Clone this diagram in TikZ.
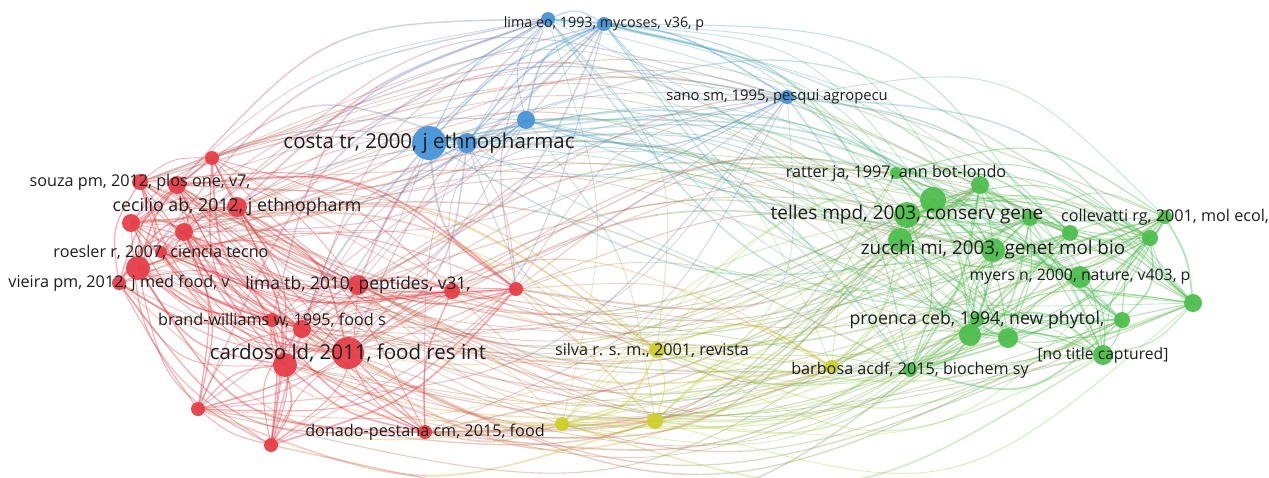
\documentclass[tikz,border=0pt]{standalone}
\usepackage{fontspec}
\setmainfont{Open Sans}
\definecolor{vc1}{RGB}{230,62,72}
\definecolor{vc2}{RGB}{70,148,218}
\definecolor{vc3}{RGB}{78,190,78}
\definecolor{vc4}{RGB}{205,208,40}
\definecolor{labtext}{RGB}{30,30,30}
\def\nodelist{1/212/158/7/1, 2/140/182/8/1, 3/177/185/9/1, 4/237/207/10/1, 5/131/223/9/1,
 6/184/232/9/1, 7/161/252/6/1, 8/138/268/12/1, 9/119/283/7/1, 10/358/285/10/1,
 11/452/291/8/1, 12/516/289/7/1, 13/272/320/7/1, 14/302/329/9/1, 15/348/353/16/1,
 16/285/365/12/1, 17/198/409/7/1, 18/271/445/7/1, 19/425/432/7/1,
 20/429/143/17/2, 21/467/143/10/2, 22/526/120/9/2, 23/548/19/7/2, 24/604/24/7/2, 25/787/97/7/2,
 26/562/424/7/4, 27/655/421/8/4, 28/657/350/8/4, 29/832/367/7/4,
 30/896/173/6/3, 31/980/185/9/3, 32/933/200/13/3, 33/907/215/13/3, 34/1030/218/8/3,
 35/1070/233/8/3, 36/1165/217/7/3, 37/1150/238/8/3, 38/900/240/12/3, 39/993/250/12/3,
 40/1080/277/11/3, 41/1193/303/9/3, 42/1122/320/8/3, 43/970/335/11/3, 44/1008/338/10/3,
 45/977/320/7/3, 46/1103/355/10/3, 47/910/370/7/3}
\begin{document}
\begin{tikzpicture}[x=1pt,y=-1pt,
  lab/.style={font=\fontsize{#1}{#1}\selectfont, text=labtext, inner sep=0pt},
  lab/.default=16.2,
  edge/.style={draw opacity=0.44, line cap=round},
  xedge/.style={draw opacity=0.32, line cap=round},
  dot/.style={fill opacity=0.94}]
\useasboundingbox (0,0) rectangle (1269,477);
\fill[white] (0,0) rectangle (1269,477);
% coordinates and node data
\foreach \i/\x/\y/\r/\c in \nodelist {
  \coordinate (n\i) at (\x,\y);
  \expandafter\xdef\csname nx\i\endcsname{\x}%
  \expandafter\xdef\csname ny\i\endcsname{\y}%
  \expandafter\xdef\csname nc\i\endcsname{\c}%
}
% edges
\pgfmathsetseed{12}
\foreach \i in {1,...,46}{
  \pgfmathtruncatemacro{\myip}{\i+1}
  \foreach \j in {\myip,...,47}{
    \edef\myca{\csname nc\i\endcsname}\edef\mycb{\csname nc\j\endcsname}%
    \edef\myxa{\csname nx\i\endcsname}\edef\myya{\csname ny\i\endcsname}%
    \edef\myxb{\csname nx\j\endcsname}\edef\myyb{\csname ny\j\endcsname}%
    \pgfmathtruncatemacro{\myk}{(\myca-1)*4+\mycb-1}%
    \edef\mypr{\ifcase\myk\space 0.66\or 0.45\or 0.22\or 0.35\or 0.45\or 0.9\or 0.3\or 0.15\or 0.22\or 0.3\or 0.7\or 0.42\or 0.35\or 0.15\or 0.42\or 0.9\fi}%
    \pgfmathsetmacro{\myu}{rnd}%
    \ifdim\myu pt<\mypr pt
      \pgfmathsetmacro{\mynx}{\myya-\myyb}%
      \pgfmathsetmacro{\myny}{\myxb-\myxa}%
      \pgfmathsetmacro{\mymx}{(\myxa+\myxb)/2}%
      \pgfmathsetmacro{\mymy}{(\myya+\myyb)/2}%
      \pgfmathsetmacro{\mydot}{(\mynx/100)*((\mymx-634)/100)+(\myny/100)*((\mymy-238)/100)}%
      \pgfmathsetmacro{\myf}{0.1+0.17*rnd}%
      \pgfmathsetmacro{\myv}{rnd}%
      \ifdim\myv pt>0.72pt \pgfmathsetmacro{\mydot}{-\mydot}\fi
      \ifdim\mydot pt<0pt \pgfmathsetmacro{\myf}{-\myf}\fi
      \pgfmathsetmacro{\mycx}{\mymx+\myf*\mynx}%
      \pgfmathsetmacro{\mycy}{\mymy+\myf*\myny}%
      \pgfmathsetmacro{\myw}{0.8+1.3*rnd*rnd}%
      \ifnum\myca=\mycb\relax
        \draw[edge, line width=\myw pt, draw=vc\myca] (n\i) .. controls (\mycx,\mycy) .. (n\j);
      \else
        % split the curve at its middle so that its colour runs from one end to the other
        \pgfmathsetmacro{\qax}{(\myxa+\mycx)/2}\pgfmathsetmacro{\qay}{(\myya+\mycy)/2}%
        \pgfmathsetmacro{\rax}{(\myxa+3*\mycx)/4}\pgfmathsetmacro{\ray}{(\myya+3*\mycy)/4}%
        \pgfmathsetmacro{\rbx}{(\myxb+3*\mycx)/4}\pgfmathsetmacro{\rby}{(\myyb+3*\mycy)/4}%
        \pgfmathsetmacro{\qbx}{(\myxb+\mycx)/2}\pgfmathsetmacro{\qby}{(\myyb+\mycy)/2}%
        \pgfmathsetmacro{\smx}{(\myxa+6*\mycx+\myxb)/8}\pgfmathsetmacro{\smy}{(\myya+6*\mycy+\myyb)/8}%
        \coordinate (em) at (\smx,\smy);
        \draw[xedge, line width=\myw pt, draw=vc\myca!72!vc\mycb] (n\i) .. controls (\qax,\qay) and (\rax,\ray) .. (em);
        \draw[xedge, line width=\myw pt, draw=vc\myca!28!vc\mycb] (em) .. controls (\rbx,\rby) and (\qbx,\qby) .. (n\j);
      \fi
    \fi
  }
}
% nodes
\foreach \i/\x/\y/\r/\c in \nodelist {
  \fill[dot, vc\c] (n\i) circle (\r);
}
% labels
\node[lab] (l2) at (n2) {souza pm, 2012, plos one, v7,};
\node[lab=17.8] (l4) at (n4) {cecilio ab, 2012, j ethnopharm};
\node[lab] (l7) at (n7) {roesler r, 2007, ciencia tecno};
\node[lab] (l9) at (n9) {vieira pm, 2012, j med food, v};
\node[lab=17.4] (l10) at (n10) {lima tb, 2010, peptides, v31,};
\node[lab] (l13) at (n13) {brand-williams w, 1995, food s};
\node[lab=20.5] (l15) at (n15) {cardoso ld, 2011, food res int};
\node[lab] (l19) at (n19) {donado-pestana cm, 2015, food};
\node[lab=20.5] (l20) at (n20) {costa tr, 2000, j ethnopharmac};
\node[lab=14.3] (l24) at (n24) {lima eo, 1993, mycoses, v36, p};
\node[lab=14.8] (l25) at ([xshift=-10pt]n25) {sano sm, 1995, pesqui agropecu};
\node[lab] (l28) at ([xshift=-5pt]n28) {silva r. s. m., 2001, revista};
\node[lab] (l30) at (n30) {ratter ja, 1997, ann bot-londo};
\node[lab=19] (l33) at (n33) {telles mpd, 2003, conserv gene};
\node[lab] (l36) at (n36) {collevatti rg, 2001, mol ecol,};
\node[lab=18.8] (l39) at (n39) {zucchi mi, 2003, genet mol bio};
\node[lab=15.8] (l40) at (n40) {myers n, 2000, nature, v403, p};
\node[lab=17.7] (l45) at (n45) {proenca ceb, 1994, new phytol,};
\node[lab=15.7] (l46) at (n46) {[no title captured]};
\node[lab] (l47) at (n47) {barbosa acdf, 2015, biochem sy};
\end{tikzpicture}
\end{document}
